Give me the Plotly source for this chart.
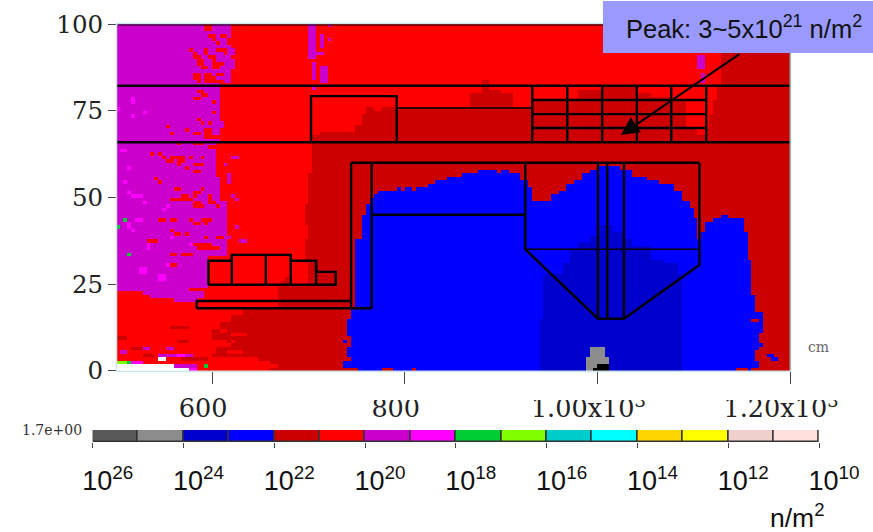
import numpy as np
import plotly.graph_objects as go

W, H = 873, 532
PURPLE, MAGENTA, RED, DARKRED, BLUE, DARKBLUE, GRAY, BLACK, GREEN, LIME, WHITE = range(11)
LEVEL_COLORS = ["#cc00cc", "#ff00ff", "#ff0000", "#cc0000", "#0000ff", "#0000cc",
                "#8c8c8c", "#000000", "#00cc33", "#80ff00", "#ffffff"]

# Colour legend
LEGEND_DECADES = [25.5 - i for i in range(16)]
LEGEND_COLORS = ["#595959", "#8c8c8c", "#0000cc", "#0000ff", "#cc0000", "#ff0000", "#cc00cc", "#ff00ff",
                 "#00cc33", "#80ff00", "#00cccc", "#00ffff", "#ffd500", "#ffff00", "#f0d0cc", "#ffe0dd"]
LEGEND_TICKS = [26, 24, 22, 20, 18, 16, 14, 12, 10]

# Fluence map: row bands (y0, y1, x edge)
PURPLE_ROWS = [(83, 100, 620), (66, 82.9, 606), (56, 66, 604), (49, 56, 606), (33, 49, 614), (24, 33, 596)]
DARKRED_ROWS = [(57, 66, 703), (48, 57, 701), (42, 48, 698), (38, 42, 701), (28, 38, 698), (27, 28, 680),
                (26, 27, 676), (25, 26, 672), (18, 25, 668), (17, 18, 632), (16, 17, 625), (14, 16, 620),
                (12, 14, 610), (9, 12, 600), (7, 9, 610), (4, 7, 600), (2, 4, 640), (0, 2, 660),
                (82, 100, 1130), (78, 82, 1123), (74, 78, 1120), (70, 74, 1117), (66, 70, 1113)]
# Upper band profile (x0, x1, top of dark red above y=66)
DARKRED_UPPER = [(703, 713, 68), (713, 749, 69.4), (749, 755, 71.3), (755, 760, 73.7), (760, 767, 75.7),
                 (767, 777, 75.2), (777, 792, 76.3), (792, 870, 75.8), (870, 881, 79.5), (881, 888, 83.8),
                 (888, 898, 81.4), (898, 912, 79.5), (912, 932, 75.8), (932, 981, 78), (981, 1003, 81.4),
                 (1003, 1040, 82), (1040, 1054, 80), (1054, 1075, 78.5), (1075, 1113, 78)]
# Blue profile (x0, x1, top)
BLUE_TOPS = [(753, 757, 38.2), (757, 760, 44.9), (760, 764, 48.3), (764, 767, 49.7), (767, 773, 50.7),
             (773, 791, 51.6), (791, 795, 52.6), (795, 802, 51.6), (802, 809, 52.6), (809, 813, 51.6),
             (813, 826, 53.1), (826, 833, 54), (833, 836, 55), (836, 843, 54.6), (843, 859, 56),
             (859, 862, 56.7), (862, 866, 56), (866, 878, 57.2), (878, 895, 58.2), (895, 900, 57.2),
             (900, 907, 58.2), (907, 914, 57.2), (914, 921, 56.5), (921, 927, 55), (927, 930, 52.6),
             (930, 937, 49.2), (937, 945, 48.5), (945, 954, 49), (954, 962, 50.7), (962, 969, 51.6),
             (969, 976, 54), (976, 983, 55), (983, 992, 57), (992, 1000, 57.9), (1000, 1023, 58.8),
             (1023, 1037, 57.9), (1037, 1050, 56.4), (1050, 1064, 55), (1064, 1078, 53.6), (1078, 1088, 52.1),
             (1088, 1095, 49.2), (1095, 1099, 47.3), (1099, 1104, 44.4), (1104, 1107, 37.7), (1107, 1113, 39.6),
             (1113, 1120, 42.5), (1120, 1127, 44), (1127, 1137, 45.4), (1137, 1144, 44.4), (1144, 1150, 43.7),
             (1150, 1160, 41), (1160, 1175, 30)]
BLUE_LEFT_ROWS = [(15, 18, 745), (10, 15, 739), (7, 10, 743), (3, 7, 741), (0, 3, 735)]
BLUE_RIGHT_ROWS = [(40, 46, 1151), (36, 40, 1156), (32, 36, 1158), (25, 32, 1160), (22, 25, 1162),
                   (17.5, 22, 1165), (11, 17.5, 1172), (6, 11, 1168), (3, 6, 1165), (0, 3, 1170)]
DARKBLUE_TOPS = [(942, 946, 14.6), (946, 964, 28), (964, 971, 31), (971, 982, 34.8), (982, 992, 36.7),
                 (992, 1000, 38.7), (1000, 1016, 41.5), (1016, 1026, 40), (1026, 1037, 38), (1037, 1054, 36),
                 (1054, 1068, 32.4), (1068, 1082, 30.5), (1082, 1089, 28.1)]

# Speckles (x0, x1, y0, y1)
RED_SPECKS = [(592, 598, 98, 100), (610, 617, 96, 97), (598, 603, 96, 97), (599, 604, 95, 96), (617, 620, 95, 96),
              (603, 608, 94, 95), (615, 620, 94, 95), (575, 579, 92, 93), (592, 596, 91, 93), (606, 610, 92, 93),
              (613, 622, 92, 93), (579, 584, 91, 92), (611, 615, 91, 92), (580, 589, 90, 91), (598, 605, 90, 91),
              (584, 592, 88, 90), (601, 605, 88, 90), (606, 611, 88, 89), (587, 594, 87, 88), (601, 608, 87, 88),
              (579, 586, 85, 86), (592, 598, 85, 86), (604, 610, 85, 86), (582, 586, 84, 85), (592, 603, 83, 85),
              (586, 588, 83, 84), (606, 615, 83, 84),
              (586, 590, 80, 81), (589, 596, 79, 80), (581, 586, 78, 79), (599, 603, 77, 78), (599, 604, 74, 75),
              (586, 588, 72, 73), (589, 592, 71, 72), (596, 599, 71, 72), (553, 557, 70, 71), (571, 575, 69, 70),
              (592, 598, 69, 70), (557, 561, 68, 69), (592, 600, 68, 69), (579, 589, 68, 69), (594, 613, 67, 68),
              (565, 568, 65, 66), (582, 592, 65, 66), (598, 613, 64, 65),
              (535, 539, 62, 63), (544, 547, 62, 63), (548, 553, 61, 62), (558, 570, 61, 62), (575, 579, 61, 62),
              (589, 592, 61, 62), (553, 558, 60, 61), (565, 570, 60, 61), (563, 568, 59, 60), (580, 592, 59, 60),
              (571, 574, 58, 59), (579, 587, 57, 58), (539, 544, 55, 56), (543, 546, 54, 55), (561, 568, 52, 53),
              (579, 581, 52, 53), (587, 592, 52, 53), (580, 587, 51, 52), (570, 575, 50, 51), (579, 584, 50, 51),
              (596, 600, 50, 51), (558, 579, 49, 50), (596, 601, 49, 50), (579, 587, 48, 49), (598, 605, 48, 49),
              (582, 592, 47, 48), (605, 610, 47, 48), (544, 551, 43, 44), (557, 563, 43, 44), (575, 580, 43, 44),
              (589, 598, 43, 44), (579, 587, 42, 43), (592, 596, 42, 43), (557, 561, 40, 41), (561, 568, 39, 40),
              (571, 575, 39, 40), (592, 596, 38, 39), (606, 610, 38, 39), (533, 544, 37, 38), (581, 598, 36, 37),
              (585, 608, 35, 36), (557, 563, 33, 34), (568, 581, 33, 34), (558, 562, 30, 31)]
PURPLE_SPECKS = [(701, 708, 90, 100), (712, 715, 93, 97), (708, 715, 91, 92), (703, 708, 84, 89), (714, 719, 83, 88),
                 (722, 725, 99, 100), (722, 725, 95, 96), (703, 708, 81, 82), (610, 613, 70, 72), (615, 622, 91, 93),
                 (617, 624, 87, 90), (612, 616, 83, 86), (1106, 1113, 87, 91), (1109, 1113, 83, 86),
                 (615, 620, 54, 57), (622, 627, 61, 62), (613, 617, 59, 60), (610, 613, 46, 48), (605, 613, 43, 45),
                 (613, 620, 38, 39), (625, 628, 49, 50), (620, 622, 50, 51), (623, 627, 41, 42), (630, 634, 37, 38),
                 (518, 535, 6, 7), (554, 558, 6, 7), (504, 510, 5, 6), (544, 579, 4, 5), (544, 553, 3, 3.9),
                 (561, 585, 1, 2), (495, 575, 22.9, 24), (529, 590, 22, 23), (535, 590, 21, 22), (560, 585, 20, 21)]
MAGENTA_SPECKS = [(515, 518, 77, 79), (502, 505, 75, 76), (529, 533, 74, 75), (518, 521, 73, 74), (504, 511, 63, 64),
                  (511, 515, 58, 59), (509, 512, 54, 55), (511, 515, 51, 52), (518, 526, 50, 51), (527, 530, 48, 49),
                  (547, 550, 46, 47), (553, 557, 47, 48), (521, 526, 43, 44), (511, 515, 41, 43), (515, 518, 40, 41),
                  (533, 535, 35, 37), (557, 560, 38, 39), (575, 578, 36, 37), (525, 531, 28, 30), (545, 552, 26, 28),
                  (553, 557, 30, 31), (563, 567, 4, 5), (566, 573, 4, 5), (546, 553, 3, 3.9), (516, 528, 2, 3),
                  (575, 582, 0, 1)]
DARKRED_SPECKS = [(558, 575, 12, 13), (502, 511, 9, 10), (565, 575, 8, 9), (516, 528, 6, 7), (528, 540, 4, 5),
                  (568, 595, 3, 4), (682, 694, 28, 31), (700, 708, 28, 31)]
RED_IN_DARK = [(599, 605, 16, 17), (610, 613, 16, 17), (624, 630, 16, 17), (610, 618, 15, 16), (596, 606, 12, 13),
               (587, 592, 11, 12), (608, 615, 11, 12), (620, 627, 10, 11), (630, 634, 10, 11), (598, 615, 8, 9),
               (620, 624, 8, 9), (610, 620, 7, 8), (598, 605, 5, 7), (615, 630, 5, 6), (640, 648, 3, 4),
               (640, 660, 2, 3), (636, 667, 1, 2), (682, 700, 25, 31), (1092, 1111, 70.4, 78), (1106, 1111, 68.5, 70.4)]
DARKRED_IN_BLUE = [(736, 753, 0, 1), (777, 788, 0, 1), (808, 812, 0, 1), (738, 743, 3, 4), (1144, 1155, 0, 1),
                   (1161, 1168, 0, 1), (1161, 1168, 14, 15)]
BLUE_IN_DARK = [(749, 753, 20, 22), (1175, 1182, 4, 5), (1182, 1186, 3, 4), (1162, 1170, 7, 8), (736, 741, 8, 9)]
GRAY_PATCHES = [(990, 1011, 0, 4.1), (994, 1006, 4.1, 6.9)]
BLACK_PATCHES = [(1002, 1010, 0, 2), (995, 1002, 0, 1)]
GREEN_SPECKS = [(508, 512, 43, 44), (502, 505, 41, 42), (511, 515, 33, 34), (592, 597, 1, 2), (510, 516, 2, 3)]
LIME_PATCHES = [(500, 510, 2, 3)]
WHITE_PATCHES = [(490, 560, -1, 2), (560, 574, -1, 1), (546, 553, 3, 3.8)]

# Structure outlines (x list, y list)
THICK_LINES = [
    ([490, 1200], [82.2, 82.2]), ([490, 1200], [65.9, 65.9]),
    ([702.7, 702.7, 791.7, 791.7], [65.9, 79.2, 79.2, 65.9]),
    ([932.4, 932.4], [65.9, 82.2]), ([968.8, 968.8], [65.9, 82.2]), ([1005, 1005], [65.9, 82.2]),
    ([1041, 1041], [65.9, 82.2]), ([1076.7, 1076.7], [65.9, 82.2]), ([1113, 1113], [65.9, 82.2]),
    ([932.4, 1113], [78.1, 78.1]), ([932.4, 1113], [74, 74]), ([932.4, 1113], [70, 70]),
    ([744.3, 744.3], [18.4, 60]), ([765.7, 765.7], [18, 60]), ([744.3, 1106], [60, 60]),
    ([765.7, 925.2], [45, 45]),
    ([925.2, 925.2, 1000.6, 1027.6, 1106, 1106], [60, 35, 15, 15, 30.5, 60]),
    ([1000.6, 1000.6], [15, 60]), ([1010.3, 1010.3], [15, 60]), ([1027.6, 1027.6], [15, 60]),
    ([584, 584, 744.3], [18, 20.1, 20.1]), ([584, 765.7], [18, 18]),
    ([596.2, 596.2, 620.5, 620.5, 655.8, 655.8, 681.7, 681.7, 708, 708, 728.4, 728.4, 596.2],
     [24.8, 31.7, 31.7, 33.4, 33.4, 33.4, 33.4, 31.7, 31.7, 28.5, 28.5, 24.8, 24.8]),
    ([620.5, 620.5], [24.8, 33.4]), ([655.8, 655.8], [24.8, 33.4]), ([681.7, 681.7], [24.8, 33.4]),
    ([708, 708], [24.8, 31.7]),
]
THIN_LINES = [([791.7, 932.4], [75.8, 75.8]), ([925.2, 1106], [35, 35])]

xs = np.arange(502, 1204, 4.0)
ys = np.arange(0.5, 100.5, 1.0)
z = np.full((ys.size, xs.size), RED)


def paint(level, x0, x1, y0, y1):
    cols = (xs >= x0 - 0.5) & (xs <= x1 + 0.5)
    rows = (ys >= y0) & (ys <= y1)
    z[np.ix_(rows, cols)] = level


for y0, y1, edge in PURPLE_ROWS:
    paint(PURPLE, 490, edge, y0, y1)
for y0, y1, edge in DARKRED_ROWS:
    paint(DARKRED, edge, 1210, y0, y1)
for x0, x1, top in DARKRED_UPPER:
    paint(DARKRED, x0, x1, 66, top)
for spec, lvl in [(RED_SPECKS, RED), (PURPLE_SPECKS, PURPLE), (MAGENTA_SPECKS, MAGENTA),
                  (DARKRED_SPECKS, DARKRED), (RED_IN_DARK, RED)]:
    for x0, x1, y0, y1 in spec:
        paint(lvl, x0, x1, y0, y1)
for x0, x1, top in BLUE_TOPS:
    paint(BLUE, x0, x1, 0, top)
for y0, y1, edge in BLUE_LEFT_ROWS:
    paint(BLUE, edge, 760, y0, y1)
paint(BLUE, 749, 760, 0, 38)
for y0, y1, edge in BLUE_RIGHT_ROWS:
    paint(DARKRED, edge, 1210, y0, y1)
for x0, x1, top in DARKBLUE_TOPS:
    paint(DARKBLUE, x0, x1, 0, top)
for spec, lvl in [(DARKRED_IN_BLUE, DARKRED), (BLUE_IN_DARK, BLUE), (GRAY_PATCHES, GRAY), (BLACK_PATCHES, BLACK),
                  (GREEN_SPECKS, GREEN), (LIME_PATCHES, LIME), (WHITE_PATCHES, WHITE)]:
    for x0, x1, y0, y1 in spec:
        paint(lvl, x0, x1, y0, y1)

n = len(LEVEL_COLORS)
colorscale = []
for i, c in enumerate(LEVEL_COLORS):
    colorscale += [[i / n, c], [(i + 1) / n, c]]

fig = go.Figure()
fig.add_trace(go.Heatmap(x=xs, y=ys, z=z, zmin=0, zmax=n, colorscale=colorscale, showscale=False,
                         hoverinfo="skip", xaxis="x", yaxis="y"))
for lines, w in [(THICK_LINES, 2.4), (THIN_LINES, 1.5)]:
    for lx, ly in lines:
        fig.add_trace(go.Scatter(x=lx, y=ly, mode="lines", line=dict(color="#000000", width=w),
                                 showlegend=False, hoverinfo="skip", xaxis="x", yaxis="y"))
fig.add_trace(go.Bar(x=LEGEND_DECADES, y=[1] * 16, width=1, marker=dict(color=LEGEND_COLORS, line=dict(color="#333333", width=1.5)),
                     showlegend=False, hoverinfo="skip", xaxis="x2", yaxis="y2"))

serif = "DejaVu Serif"
sans = "Liberation Sans"


def px(v):
    return v / W


def py(v):
    return 1 - v / H


fig.update_layout(
    template="none",
    width=W, height=H, autosize=False, margin=dict(l=0, r=0, t=0, b=0, pad=0),
    paper_bgcolor="white", plot_bgcolor="white", showlegend=False, bargap=0,
    xaxis=dict(domain=[px(117), px(790)], range=[501.3, 1200], tickmode="array", tickvals=[600, 800, 1000, 1200],
               ticktext=["600", "800", "1.00x10<sup>3</sup>", "1.20x10<sup>3</sup>"], ticks="outside", ticklen=12,
               tickcolor="#444444", tickwidth=1, showgrid=False, zeroline=False, showline=False, automargin=False,
               tickfont=dict(family=serif, size=25.5, color="#222222"), ticklabelshift=-9, ticklabelstandoff=3, anchor="y"),
    yaxis=dict(domain=[py(370.7), py(24)], range=[0, 100], tickmode="array", tickvals=[0, 25, 50, 75, 100],
               ticktext=["0", "25", "50", "75", "100"], ticks="outside", ticklen=8, tickcolor="#444444", tickwidth=1,
               showgrid=False, zeroline=False, showline=False, automargin=False,
               tickfont=dict(family=serif, size=24.5, color="#222222"), anchor="x"),
    xaxis2=dict(domain=[px(92.7), px(819)], range=[26, 10], tickmode="array", tickvals=LEGEND_TICKS,
                ticktext=[f"10<sup>{t}</sup>" for t in LEGEND_TICKS], ticks="outside", ticklen=5, tickcolor="#444444",
                tickwidth=1, showgrid=False, zeroline=False, showline=False, automargin=False,
                tickfont=dict(family=sans, size=27, color="#111111"), ticklabelshift=-15, ticklabelstandoff=10, anchor="y2"),
    yaxis2=dict(domain=[py(442), py(430)], range=[0, 1], visible=False, anchor="x2", automargin=False),
    shapes=[
        dict(type="rect", xref="paper", yref="paper", x0=px(116.5), x1=px(790.5), y0=py(371.5), y1=py(23.5),
             line=dict(color="#cfe5ee", width=1.5), fillcolor="rgba(0,0,0,0)", layer="above"),
        dict(type="line", xref="paper", yref="paper", x0=px(118), x1=px(790), y0=py(25), y1=py(25),
             line=dict(color="#000000", width=1), layer="above"),
        dict(type="line", xref="paper", yref="paper", x0=px(790), x1=px(790), y0=py(25), y1=py(370),
             line=dict(color="#777777", width=1), layer="above"),
        dict(type="rect", xref="paper", yref="paper", x0=px(350), x1=px(873), y0=py(400), y1=py(385),
             line=dict(width=0), fillcolor="white", layer="above"),
        dict(type="rect", xref="paper", yref="paper", x0=px(603), x1=px(873), y0=py(53), y1=py(1),
             line=dict(width=0), fillcolor="#9999ff", layer="above"),
    ],
    annotations=[
        dict(xref="paper", yref="paper", x=px(624), y=py(27), xanchor="left", yanchor="middle", showarrow=False,
             text="Peak: 3~5x10<sup>21</sup> n/m<sup>2</sup>", font=dict(family=sans, size=25.5, color="#111111")),
        dict(xref="x", yref="y", axref="x", ayref="y", x=1024.5, y=68, ax=1149, ay=91.6, text="", showarrow=True,
             arrowhead=2, arrowsize=1.8, arrowwidth=2, arrowcolor="#000000"),
        dict(xref="paper", yref="paper", x=px(20), y=py(430), xanchor="left", yanchor="middle", showarrow=False,
             text="1.7e+00", font=dict(family=serif, size=14, color="#333333")),
        dict(xref="paper", yref="paper", x=px(806), y=py(347), xanchor="left", yanchor="middle", showarrow=False,
             text="cm", font=dict(family=serif, size=14, color="#666666")),
        dict(xref="paper", yref="paper", x=px(768), y=py(516), xanchor="left", yanchor="middle", showarrow=False,
             text="n/m<sup>2</sup>", font=dict(family=sans, size=26.5, color="#111111")),
    ],
)
fig.write_html("out.html", config={"displayModeBar": False},
               post_script="document.body.style.margin='0';document.body.style.overflow='hidden';")
